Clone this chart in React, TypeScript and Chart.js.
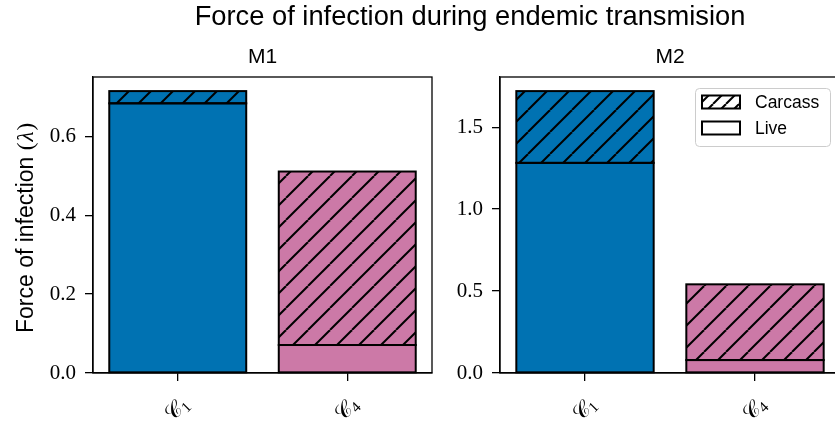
import React, { useEffect, useRef } from "react";
import { Chart, registerables } from "chart.js";

Chart.register(...registerables);

// Clusters on the x axis, drawn as a calligraphic C with the id as subscript
const clusterIds = ["1", "4"];
const clusterColors = ["#0072B2", "#CC79A7"];

// Model M1: force of infection split by route
const m1Live = [0.684, 0.071];
const m1Carcass = [0.031, 0.44];

// Model M2
const m2Live = [1.282, 0.079];
const m2Carcass = [0.438, 0.462];

const routeNames = ["Carcass", "Live"];
const figureTitle = "Force of infection during endemic transmision";
const yTitleText = "Force of infection ";
const yTitleSymbol = "λ";

const SANS = '"Liberation Sans", Arial, Helvetica, sans-serif';
const SERIF = '"Liberation Serif", "DejaVu Serif", serif';
const MATH = '"DejaVu Serif", "DejaVu Sans", "Liberation Serif", serif';

function hatchPattern(fill: string | null, size: number, lw: number): CanvasPattern {
  const c = document.createElement("canvas");
  c.width = size;
  c.height = size;
  const g = c.getContext("2d")!;
  if (fill) {
    g.fillStyle = fill;
    g.fillRect(0, 0, size, size);
  }
  g.strokeStyle = "#000";
  g.lineWidth = lw;
  for (const o of [-size, 0, size]) {
    g.beginPath();
    g.moveTo(o, size);
    g.lineTo(o + size, 0);
    g.stroke();
  }
  return g.createPattern(c, "repeat")!;
}

type PanelProps = {
  title: string;
  live: number[];
  carcass: number[];
  step: number;
  left: number;
  width: number;
  axisWidth: number;
  padRight: number;
  showYTitle?: boolean;
  showLegend?: boolean;
};

function Panel(p: PanelProps) {
  const ref = useRef<HTMLCanvasElement>(null);

  useEffect(() => {
    const canvas = ref.current!;
    const totals = p.live.map((v, i) => v + p.carcass[i]);
    const yMax = Math.max(...totals) * 1.05;
    const labels = clusterIds.map((id) => "C" + id);

    // centred black outlines around every bar segment
    const outlines = {
      id: "outlines",
      afterDatasetsDraw(chart: any) {
        const ctx: CanvasRenderingContext2D = chart.ctx;
        ctx.save();
        ctx.strokeStyle = "#000";
        ctx.lineWidth = 2;
        chart.data.datasets.forEach((_: any, di: number) => {
          chart.getDatasetMeta(di).data.forEach((el: any) => {
            const { x, y, base, width } = el.getProps(["x", "y", "base", "width"], true);
            const top = Math.min(y, base);
            const h = Math.abs(base - y);
            ctx.strokeRect(x - width / 2, top, width, h);
          });
        });
        ctx.restore();
      },
    };

    const decor = {
      id: "decor",
      afterDraw(chart: any) {
        const ctx: CanvasRenderingContext2D = chart.ctx;
        const a = chart.chartArea;

        // closed frame around the plotting area
        ctx.save();
        ctx.strokeStyle = "#000";
        ctx.lineWidth = 1.3;
        ctx.strokeRect(a.left, a.top, a.right - a.left, a.bottom - a.top);
        ctx.restore();

        // panel title
        ctx.save();
        ctx.fillStyle = "#000";
        ctx.font = `21px ${SANS}`;
        ctx.textAlign = "center";
        ctx.textBaseline = "alphabetic";
        ctx.fillText(p.title, (a.left + a.right) / 2, 63);
        ctx.restore();

        // rotated cluster labels
        const xs = chart.scales.x;
        clusterIds.forEach((id, i) => {
          const x = xs.getPixelForValue(i);
          ctx.save();
          ctx.translate(x, 410);
          ctx.rotate(-Math.PI / 4);
          ctx.fillStyle = "#000";
          ctx.textAlign = "left";
          ctx.textBaseline = "middle";
          ctx.font = `22px ${MATH}`;
          const w1 = ctx.measureText("𝒞").width;
          ctx.font = `15px ${SERIF}`;
          const w2 = ctx.measureText(id).width;
          const start = -(w1 + w2) / 2;
          ctx.font = `22px ${MATH}`;
          ctx.fillText("𝒞", start, 0);
          ctx.font = `15px ${SERIF}`;
          ctx.fillText(id, start + w1, 5);
          ctx.restore();
        });

        // y axis title
        if (p.showYTitle) {
          const fs = 23;
          ctx.save();
          ctx.translate(33, (a.top + a.bottom) / 2 + 3);
          ctx.rotate(-Math.PI / 2);
          ctx.fillStyle = "#000";
          ctx.textBaseline = "alphabetic";
          ctx.textAlign = "left";
          ctx.font = `${fs}px ${SANS}`;
          const wA = ctx.measureText(yTitleText).width;
          ctx.font = `${fs}px ${SERIF}`;
          const wP = ctx.measureText("(").width;
          ctx.font = `italic ${fs}px ${SERIF}`;
          const wL = ctx.measureText(yTitleSymbol).width;
          const total = wA + wP * 2 + wL + 2;
          let x0 = -total / 2;
          ctx.font = `${fs}px ${SANS}`;
          ctx.fillText(yTitleText, x0, 0);
          x0 += wA;
          ctx.font = `${fs}px ${SERIF}`;
          ctx.fillText("(", x0, 0);
          x0 += wP + 1;
          ctx.font = `italic ${fs}px ${SERIF}`;
          ctx.fillText(yTitleSymbol, x0, 0);
          x0 += wL + 1;
          ctx.font = `${fs}px ${SERIF}`;
          ctx.fillText(")", x0, 0);
          ctx.restore();
        }

        // legend box
        if (p.showLegend) {
          const W = 135;
          const H = 58;
          const R = a.right - 10;
          const T = a.top + 11;
          const L = R - W;
          ctx.save();
          ctx.beginPath();
          (ctx as any).roundRect(L + 0.5, T + 0.5, W, H, 4);
          ctx.fillStyle = "rgba(255,255,255,0.8)";
          ctx.fill();
          ctx.strokeStyle = "#cccccc";
          ctx.lineWidth = 1;
          ctx.stroke();
          const rows = [
            { name: routeNames[0], y: T + 14, fill: hatchPattern("#ffffff", 13, 2) as any },
            { name: routeNames[1], y: T + 40, fill: "#ffffff" as any },
          ];
          rows.forEach((r) => {
            ctx.fillStyle = r.fill;
            ctx.fillRect(L + 7, r.y - 6.5, 38, 13);
            ctx.strokeStyle = "#000";
            ctx.lineWidth = 2;
            ctx.strokeRect(L + 7, r.y - 6.5, 38, 13);
            ctx.fillStyle = "#000";
            ctx.font = `17.5px ${SANS}`;
            ctx.textAlign = "left";
            ctx.textBaseline = "middle";
            ctx.fillText(r.name, L + 60, r.y + 1);
          });
          ctx.restore();
        }
      },
    };

    const chart = new Chart(canvas, {
      type: "bar",
      data: {
        labels,
        datasets: [
          {
            label: routeNames[1],
            data: p.live,
            backgroundColor: clusterColors,
            borderWidth: 0,
            categoryPercentage: 0.808,
            barPercentage: 1,
            stack: "route",
          },
          {
            label: routeNames[0],
            data: p.carcass,
            backgroundColor: clusterColors.map((c) => hatchPattern(c, 22, 2)) as any,
            borderWidth: 0,
            categoryPercentage: 0.808,
            barPercentage: 1,
            stack: "route",
          },
        ],
      },
      options: {
        animation: false,
        responsive: false,
        maintainAspectRatio: false,
        events: [],
        layout: { padding: { top: 77, bottom: 35, left: 0, right: p.padRight } },
        plugins: {
          legend: { display: false },
          tooltip: { enabled: false },
          title: { display: false },
        },
        scales: {
          x: {
            stacked: true,
            grid: {
              offset: false,
              drawOnChartArea: false,
              drawTicks: true,
              tickLength: 8,
              color: "#000",
              lineWidth: 1.3,
            },
            border: { display: true, color: "#000", width: 1.3 },
            ticks: { display: false },
            afterFit: (s: any) => {
              s.height = 20;
            },
          },
          y: {
            stacked: true,
            min: 0,
            max: yMax,
            grid: {
              drawOnChartArea: false,
              drawTicks: true,
              tickLength: 8,
              color: "#000",
              lineWidth: 1.3,
            },
            border: { display: true, color: "#000", width: 1.3 },
            ticks: {
              stepSize: p.step,
              includeBounds: false,
              color: "#000",
              padding: 9,
              font: { family: SERIF, size: 21 },
              callback: (v: any) => Number(v).toFixed(1),
            },
            afterFit: (s: any) => {
              s.width = p.axisWidth;
            },
          },
        },
      },
      plugins: [outlines, decor],
    });

    return () => chart.destroy();
  }, []);

  return (
    <canvas
      ref={ref}
      width={p.width}
      height={428}
      style={{ position: "absolute", left: p.left, top: 0, width: p.width, height: 428 }}
    />
  );
}

export default function App() {
  return (
    <div
      style={{
        position: "absolute",
        left: 0,
        top: 0,
        width: 835,
        height: 428,
        overflow: "hidden",
        background: "#fff",
      }}
    >
      <Panel
        title="M1"
        live={m1Live}
        carcass={m1Carcass}
        step={0.2}
        left={0}
        width={440}
        axisWidth={93}
        padRight={8}
        showYTitle
      />
      <Panel
        title="M2"
        live={m2Live}
        carcass={m2Carcass}
        step={0.5}
        left={440}
        width={400}
        axisWidth={60}
        padRight={0}
        showLegend
      />
      <div
        style={{
          position: "absolute",
          left: 0,
          top: 2,
          width: 940,
          textAlign: "center",
          font: `27.3px ${SANS}`,
          lineHeight: "27px",
          color: "#000",
          whiteSpace: "nowrap",
        }}
      >
        {figureTitle}
      </div>
    </div>
  );
}
